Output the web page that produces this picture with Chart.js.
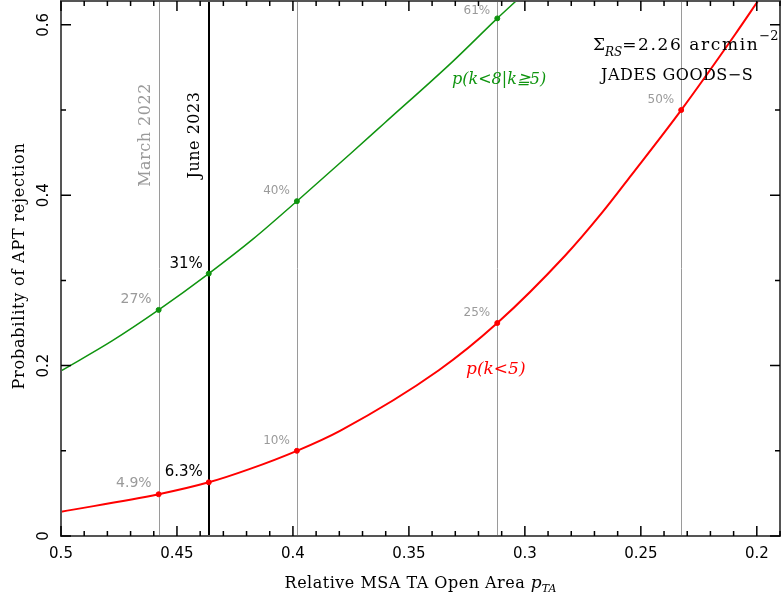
<!DOCTYPE html>
<html>
<head>
<meta charset="utf-8">
<script src="https://cdn.jsdelivr.net/npm/chart.js@4.4.1/dist/chart.umd.min.js"></script>
<style>
  html, body { margin: 0; padding: 0; background: #fff; }
</style>
</head>
<body>
<canvas id="chart" width="781" height="600"></canvas>
<script>
// curves (x = relative open area, y = probability)
const redX = [0.5, 0.4579, 0.4363, 0.4188, 0.3983, 0.3795, 0.3371, 0.3119, 0.2827, 0.2669, 0.254, 0.2326, 0.2093, 0.1995];
const redY = [0.0285, 0.049, 0.063, 0.0785, 0.10, 0.1238, 0.1946, 0.25, 0.329, 0.379, 0.424, 0.50, 0.589, 0.628];
const greenX = [0.5, 0.478, 0.4579, 0.4363, 0.417, 0.3983, 0.3751, 0.3606, 0.3315, 0.3119, 0.3038];
const greenY = [0.1938, 0.229, 0.2654, 0.308, 0.349, 0.393, 0.449, 0.4845, 0.556, 0.6076, 0.628];

// epochs marked with vertical lines
const epochX = [0.4579, 0.4363, 0.3983, 0.3119, 0.2326];
const epochName = ["March 2022", "June 2023", null, null, null];
const redAt = [0.049, 0.063, 0.10, 0.25, 0.50];
const redPct = ["4.9%", "6.3%", "10%", "25%", "50%"];
const greenAt = [0.2654, 0.308, 0.393, 0.6076];
const greenPct = ["27%", "31%", "40%", "61%"];

const xMajor = [0.5, 0.45, 0.4, 0.35, 0.3, 0.25, 0.2];
const xMinor = [0.49, 0.48, 0.47, 0.46, 0.44, 0.43, 0.42, 0.41, 0.39, 0.38, 0.37, 0.36,
  0.34, 0.33, 0.32, 0.31, 0.29, 0.28, 0.27, 0.26, 0.24, 0.23, 0.22, 0.21, 0.19];
const yMajor = [0, 0.2, 0.4, 0.6];
const yMinor = [0.1, 0.3, 0.5];

const RED = "#ff0000";
const GREEN = "#0f940f";
const GRAY = "#9a9a9a";
const SERIF = '"DejaVu Serif"';
const SANS = '"DejaVu Sans"';

function pts(xs, ys) {
  return xs.map((x, i) => ({ x: x, y: ys[i] }));
}

const decor = {
  id: "decor",
  beforeDatasetsDraw(chart) {
    let ctx = chart.ctx;
    let a = chart.chartArea;
    let xs = chart.scales.x;
    ctx.save();
    epochX.forEach((v, i) => {
      let px = Math.round(xs.getPixelForValue(v)) + (i == 1 ? 0 : 0.5);
      ctx.strokeStyle = i == 1 ? "#000" : GRAY;
      ctx.lineWidth = i == 1 ? 2 : 1;
      ctx.beginPath();
      ctx.moveTo(px, a.top);
      ctx.lineTo(px, a.bottom);
      ctx.stroke();
    });
    ctx.restore();
  },
  afterDatasetsDraw(chart) {
    let ctx = chart.ctx;
    let a = chart.chartArea;
    let xs = chart.scales.x;
    let ys = chart.scales.y;
    ctx.save();

    // frame
    ctx.strokeStyle = "#555";
    ctx.lineWidth = 2;
    ctx.strokeRect(a.left, a.top, a.right - a.left, a.bottom - a.top);

    // inward tick marks
    ctx.strokeStyle = "#000";
    ctx.lineWidth = 1.5;
    ctx.beginPath();
    const xt = (v, len) => {
      let px = xs.getPixelForValue(v);
      ctx.moveTo(px, a.bottom);
      ctx.lineTo(px, a.bottom - len);
      ctx.moveTo(px, a.top);
      ctx.lineTo(px, a.top + len);
    };
    const yt = (v, len) => {
      let py = ys.getPixelForValue(v);
      ctx.moveTo(a.left, py);
      ctx.lineTo(a.left + len, py);
      ctx.moveTo(a.right, py);
      ctx.lineTo(a.right - len, py);
    };
    xMajor.forEach((v) => xt(v, 10));
    xMinor.forEach((v) => xt(v, 5));
    yMajor.forEach((v) => yt(v, 10));
    yMinor.forEach((v) => yt(v, 5));
    ctx.stroke();

    // y tick labels, rotated like the original
    ctx.fillStyle = "#000";
    ctx.font = "15px " + SANS;
    ctx.textAlign = "center";
    ctx.textBaseline = "middle";
    yMajor.forEach((v) => {
      ctx.save();
      ctx.translate(44, ys.getPixelForValue(v));
      ctx.rotate(-Math.PI / 2);
      ctx.fillText(String(v), 0, 0);
      ctx.restore();
    });

    // axis titles
    ctx.font = "16px " + SERIF;
    ctx.letterSpacing = "0.8px";
    ctx.save();
    ctx.translate(20, 266);
    ctx.rotate(-Math.PI / 2);
    ctx.fillText("Probability of APT rejection", 0, 0);
    ctx.restore();

    ctx.textAlign = "left";
    ctx.textBaseline = "alphabetic";
    ctx.letterSpacing = "0.5px";
    let t1 = "Relative MSA TA Open Area ";
    let w1 = ctx.measureText(t1).width;
    ctx.letterSpacing = "0px";
    ctx.font = "italic 17px " + SERIF;
    let w2 = ctx.measureText("p").width;
    ctx.font = "italic 11px " + SERIF;
    let w3 = ctx.measureText("TA").width;
    let x0 = (a.left + a.right) / 2 - (w1 + w2 + w3) / 2;
    ctx.letterSpacing = "0.5px";
    ctx.font = "16px " + SERIF;
    ctx.fillText(t1, x0, 588);
    ctx.letterSpacing = "0px";
    ctx.font = "italic 17px " + SERIF;
    ctx.fillText("p", x0 + w1, 588);
    ctx.font = "italic 11px " + SERIF;
    ctx.fillText("TA", x0 + w1 + w2, 592);

    // epoch names
    ctx.font = "16px " + SERIF;
    ctx.letterSpacing = "0.5px";
    ctx.textAlign = "center";
    ctx.textBaseline = "middle";
    epochName.forEach((name, i) => {
      if (!name) return;
      ctx.save();
      ctx.fillStyle = i == 1 ? "#000" : GRAY;
      ctx.translate(xs.getPixelForValue(epochX[i]) - (i == 1 ? 14 : 13), 135);
      ctx.rotate(-Math.PI / 2);
      ctx.fillText(name, 0, 0);
      ctx.restore();
    });
    ctx.letterSpacing = "0px";

    // percentage labels next to the dots
    ctx.textAlign = "right";
    ctx.textBaseline = "alphabetic";
    const pct = (text, xv, yv, i) => {
      let px = xs.getPixelForValue(xv);
      let py = ys.getPixelForValue(yv);
      if (i == 1) {
        ctx.fillStyle = "#000";
        ctx.font = "15px " + SANS;
        ctx.fillText(text, px - 6, py - 6);
      } else {
        ctx.fillStyle = GRAY;
        ctx.font = (i == 0 ? "14px " : "12px ") + SANS;
        ctx.fillText(text, px - 7, Math.max(py - 7, 14));
      }
    };
    redPct.forEach((t, i) => pct(t, epochX[i], redAt[i], i));
    greenPct.forEach((t, i) => pct(t, epochX[i], greenAt[i], i));

    // curve labels
    ctx.textAlign = "left";
    ctx.font = "italic 16px " + SERIF;
    ctx.fillStyle = GREEN;
    ctx.fillText("p(k<8|k\u22675)", 452, 84);
    ctx.fillStyle = RED;
    ctx.font = "italic 17px " + SERIF;
    ctx.fillText("p(k<5)", 466, 374);

    // survey note
    ctx.fillStyle = "#000";
    let x = 593;
    ctx.font = "17px " + SERIF;
    ctx.fillText("\u03a3", x, 50);
    x += ctx.measureText("\u03a3").width;
    ctx.font = "italic 12px " + SERIF;
    ctx.fillText("RS", x, 56);
    x += ctx.measureText("RS").width;
    ctx.font = "17px " + SERIF;
    ctx.letterSpacing = "1.6px";
    ctx.fillText("=2.26 arcmin", x, 50);
    x += ctx.measureText("=2.26 arcmin").width;
    ctx.letterSpacing = "0px";
    ctx.font = "13px " + SERIF;
    ctx.fillText("\u22122", x, 40);
    ctx.font = "16px " + SERIF;
    ctx.letterSpacing = "0.5px";
    ctx.fillText("JADES GOODS\u2212S", 601, 80);
    ctx.letterSpacing = "0px";

    ctx.restore();
  },
};

new Chart(document.getElementById("chart"), {
  type: "line",
  data: {
    datasets: [
      {
        data: pts(redX, redY),
        borderColor: RED,
        borderWidth: 2,
        pointRadius: 0,
        cubicInterpolationMode: "monotone",
      },
      {
        data: pts(greenX, greenY),
        borderColor: GREEN,
        borderWidth: 1.5,
        pointRadius: 0,
        cubicInterpolationMode: "monotone",
      },
      {
        type: "scatter",
        data: pts(epochX, redAt),
        backgroundColor: RED,
        borderColor: RED,
        pointRadius: 2.5,
      },
      {
        type: "scatter",
        data: pts(epochX.slice(0, 4), greenAt),
        backgroundColor: GREEN,
        borderColor: GREEN,
        pointRadius: 2.5,
      },
    ],
  },
  options: {
    responsive: false,
    animation: false,
    layout: { autoPadding: false, padding: { top: 1, right: 1, left: 0, bottom: 0 } },
    plugins: { legend: { display: false }, tooltip: { enabled: false } },
    scales: {
      x: {
        type: "linear",
        reverse: true,
        min: 0.19,
        max: 0.5,
        afterBuildTicks: (s) => {
          s.ticks = xMajor.map((v) => ({ value: v }));
        },
        afterFit: (s) => {
          s.height = 64;
        },
        grid: { display: false, drawTicks: false },
        border: { display: false },
        ticks: {
          padding: 9,
          color: "#000",
          font: { family: "DejaVu Sans", size: 15 },
          maxRotation: 0,
          callback: (v) => String(v),
        },
      },
      y: {
        type: "linear",
        min: 0,
        max: 0.628,
        afterFit: (s) => {
          s.width = 61;
        },
        grid: { display: false, drawTicks: false },
        border: { display: false },
        ticks: { display: false },
      },
    },
  },
  plugins: [decor],
});
</script>
</body>
</html>
